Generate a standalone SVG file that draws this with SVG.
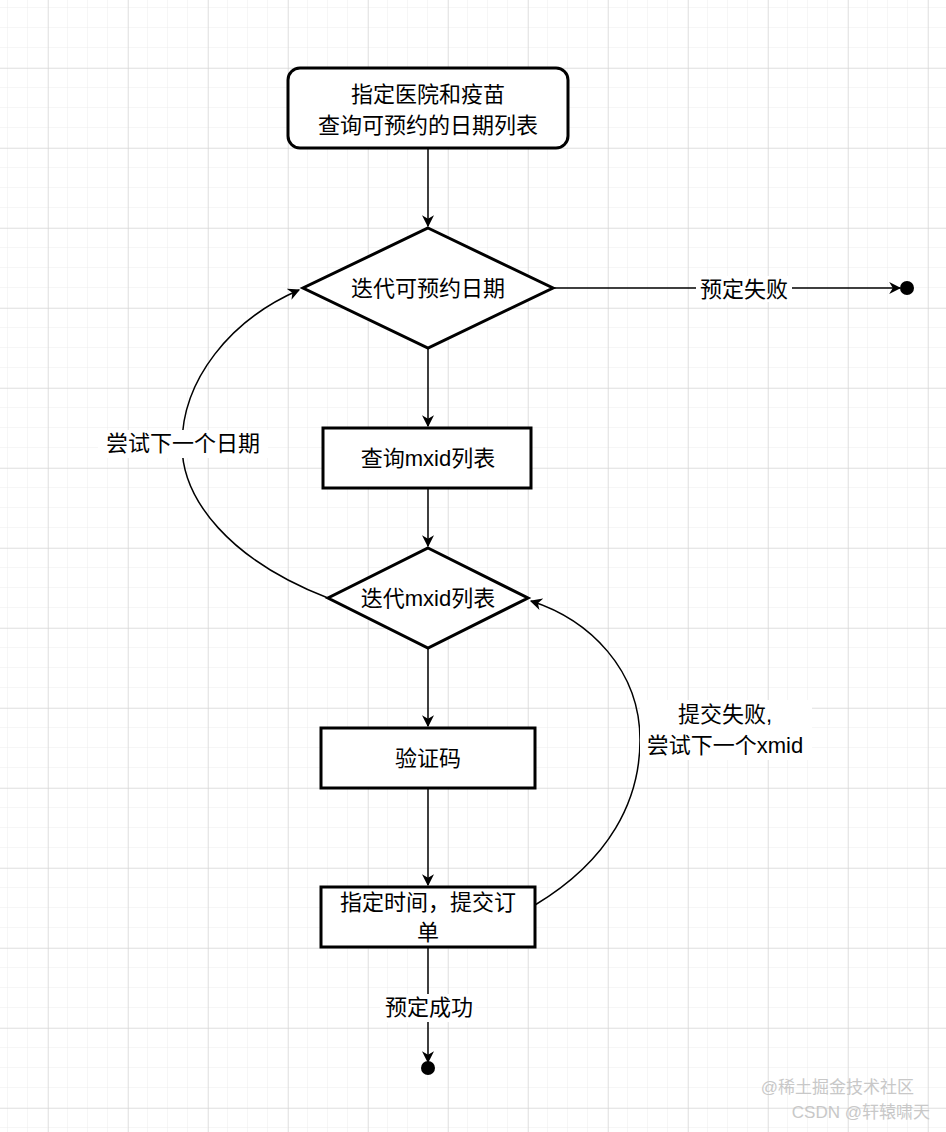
<svg xmlns="http://www.w3.org/2000/svg" width="946" height="1132" viewBox="0 0 946 1132">
<defs>
<pattern id="minor" width="20" height="20" patternUnits="userSpaceOnUse" x="8" y="8"><path d="M20 0V20M0 20H20" fill="none" stroke="#ececec" stroke-width="1"/></pattern>
<pattern id="major" width="80" height="80" patternUnits="userSpaceOnUse" x="48" y="68"><path d="M0 0V80M0 0H80" fill="none" stroke="#d0d0d0" stroke-width="1"/></pattern>
<marker id="ar2" viewBox="0 0 10 10" refX="9" refY="5" markerWidth="12" markerHeight="12" orient="auto" markerUnits="userSpaceOnUse"><path d="M0 0L10 5L0 10L3 5Z" fill="#000"/></marker>
</defs>
<style>
.n{fill:#fff;stroke:#000;stroke-width:3}
.t{font-family:"Liberation Sans","Noto Sans CJK SC",sans-serif;font-size:22px;text-anchor:middle;dominant-baseline:central;fill:#000}
.c{fill:none;stroke:#000;stroke-width:1.5}
.lb{fill:#fff}
</style>
<rect width="946" height="1132" fill="#fff"/>
<rect width="946" height="1132" fill="url(#minor)"/>
<rect width="946" height="1132" fill="url(#major)"/>
<g id="connectors">
<path class="c" d="M428 148V226" marker-end="url(#ar2)"/>
<path class="c" d="M553 288H900" marker-end="url(#ar2)"/>
<circle cx="907" cy="288" r="7" fill="#000"/>
<rect class="lb" x="696" y="276" width="96" height="26"/>
<text class="t" x="744" y="289">预定失败</text>
<path class="c" d="M428 348V426" marker-end="url(#ar2)"/>
<path class="c" d="M428 488V546" marker-end="url(#ar2)"/>
<path class="c" d="M428 648V726" marker-end="url(#ar2)"/>
<path class="c" d="M428 788V885" marker-end="url(#ar2)"/>
<path class="c" d="M428 947V1062" marker-end="url(#ar2)"/>
<circle cx="428" cy="1068" r="7" fill="#000"/>
<rect class="lb" x="380" y="994" width="96" height="28"/>
<text class="t" x="429" y="1007">预定成功</text>
<path class="c" d="M328 598C230 560 182 500 182 445C182 380 230 320 299 290" marker-end="url(#ar2)"/>
<rect class="lb" x="98" y="430" width="170" height="28"/>
<text class="t" x="183" y="443">尝试下一个日期</text>
<path class="c" d="M535 905C610 860 640 800 640 740C640 670 590 620 531 601" marker-end="url(#ar2)"/>
<rect class="lb" x="640" y="700" width="172" height="60"/>
<text class="t" x="725" y="714">提交失败,</text>
<text class="t" x="725" y="745">尝试下一个xmid</text>
</g>
<g id="n1"><rect class="n" x="288" y="68" width="280" height="80" rx="12"/><text class="t" x="428" y="94">指定医院和疫苗</text><text class="t" x="428" y="125">查询可预约的日期列表</text></g>
<g id="n2"><path class="n" d="M428 228L553 288L428 348L303 288Z"/><text class="t" x="428" y="288">迭代可预约日期</text></g>
<g id="n3"><rect class="n" x="323" y="428" width="208" height="60"/><text class="t" x="428" y="458">查询mxid列表</text></g>
<g id="n4"><path class="n" d="M428 548L528 598L428 648L328 598Z"/><text class="t" x="428" y="598">迭代mxid列表</text></g>
<g id="n5"><rect class="n" x="321" y="728" width="214" height="60"/><text class="t" x="428" y="758">验证码</text></g>
<g id="n6"><rect class="n" x="321" y="887" width="214" height="60"/><text class="t" x="428" y="902">指定时间，提交订</text><text class="t" x="428" y="932">单</text></g>
<text x="914" y="1093" style="font-family:'Liberation Sans','Noto Sans CJK SC',sans-serif;font-size:17px;text-anchor:end;fill:#c8c8c8">@稀土掘金技术社区</text>
<text x="930" y="1118" style="font-family:'Liberation Sans','Noto Sans CJK SC',sans-serif;font-size:17px;text-anchor:end;fill:#c8c8c8">CSDN @轩辕啸天</text>
</svg>
